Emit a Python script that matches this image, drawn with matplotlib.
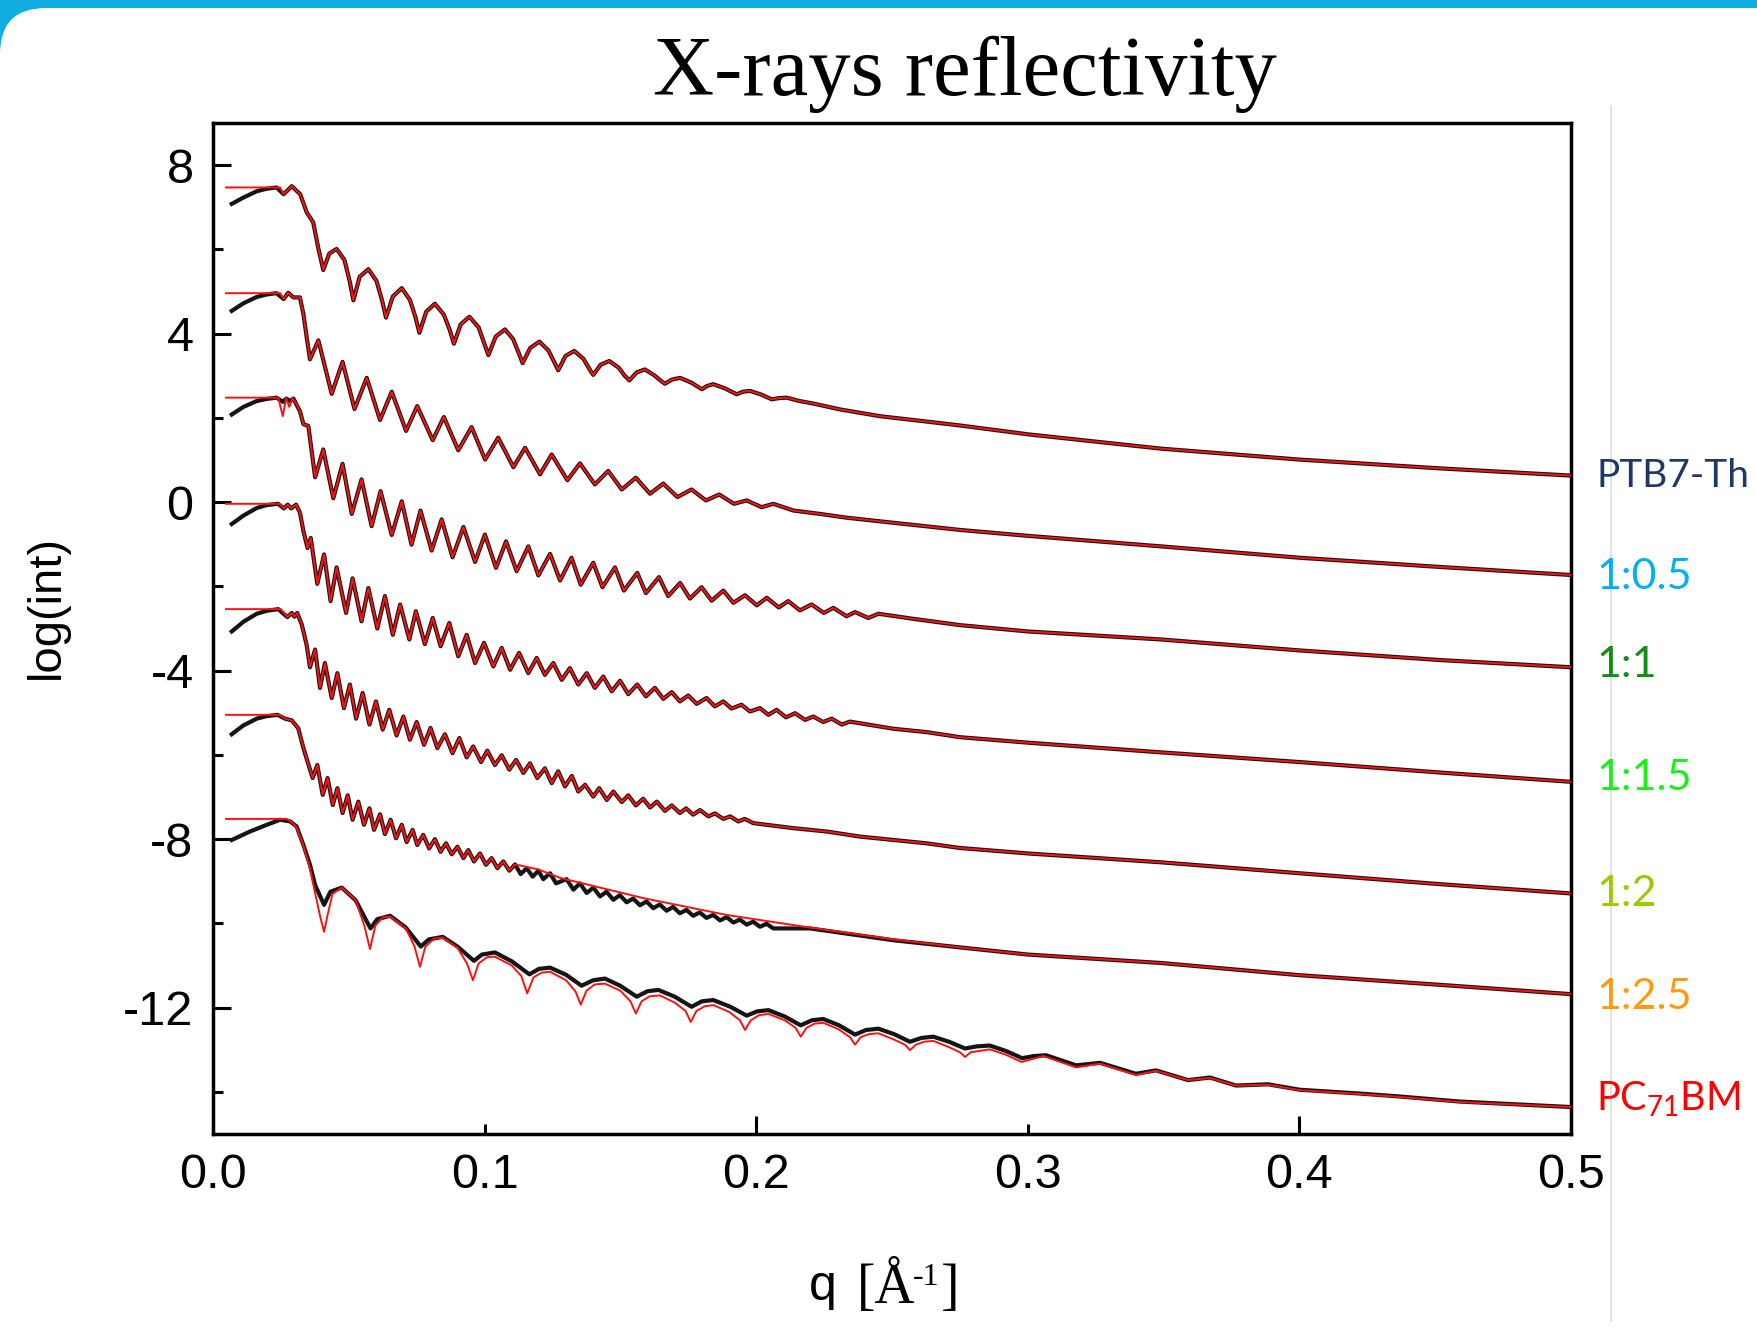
import numpy as np
import matplotlib
matplotlib.use("Agg")
import matplotlib.pyplot as plt
from matplotlib.patches import FancyBboxPatch
from matplotlib.lines import Line2D

# ---------------- data (q [1/A], log(int)) ----------------
ptb7_data = [(0.0069, 7.08), (0.0112, 7.23), (0.0161, 7.38), (0.0198, 7.44), (0.0234, 7.47),
             (0.0260, 7.31), (0.0290, 7.50), (0.0321, 7.31), (0.0345, 6.88), (0.0369, 6.64),
             (0.0387, 6.05), (0.0406, 5.51), (0.0428, 5.90), (0.0455, 6.01), (0.0484, 5.75),
             (0.0503, 5.25), (0.0517, 4.79), (0.0540, 5.35), (0.0572, 5.53), (0.0602, 5.25),
             (0.0622, 4.80), (0.0637, 4.38), (0.0662, 4.88), (0.0695, 5.08), (0.0725, 4.80),
             (0.0745, 4.40), (0.0760, 4.02), (0.0785, 4.52), (0.0817, 4.71), (0.0850, 4.45),
             (0.0872, 4.08), (0.0887, 3.76), (0.0912, 4.22), (0.0944, 4.40), (0.0978, 4.15),
             (0.0998, 3.78), (0.1014, 3.49), (0.1041, 3.93), (0.1075, 4.10), (0.1105, 3.87),
             (0.1125, 3.55), (0.1140, 3.30), (0.1168, 3.66), (0.1202, 3.81), (0.1235, 3.60),
             (0.1256, 3.33), (0.1271, 3.13), (0.1298, 3.47), (0.1330, 3.59), (0.1364, 3.40),
             (0.1385, 3.17), (0.1400, 3.02), (0.1427, 3.26), (0.1459, 3.35), (0.1494, 3.19),
             (0.1516, 3.00), (0.1533, 2.89), (0.1560, 3.08), (0.1590, 3.15), (0.1625, 3.01),
             (0.1647, 2.89), (0.1664, 2.81), (0.1690, 2.91), (0.1720, 2.95), (0.1760, 2.84),
             (0.1800, 2.68), (0.1820, 2.76), (0.1842, 2.80), (0.1885, 2.70), (0.1928, 2.56),
             (0.1950, 2.62), (0.1977, 2.64), (0.2020, 2.55), (0.2057, 2.44), (0.2085, 2.47),
             (0.2112, 2.48), (0.2160, 2.40), (0.2210, 2.34), (0.2309, 2.20), (0.2456, 2.04),
             (0.2590, 1.94), (0.2750, 1.82), (0.3000, 1.61), (0.3490, 1.27), (0.4000, 1.01),
             (0.4520, 0.80), (0.5000, 0.63)]
ptb7_fit_head = [(0.0048, 7.47), (0.0247, 7.47)]

r05_data = [(0.0069, 4.54), (0.0112, 4.72), (0.0161, 4.87), (0.0198, 4.93), (0.0234, 4.96),
            (0.0260, 4.82), (0.0277, 4.97), (0.0296, 4.86), (0.0320, 4.86), (0.0333, 4.46),
            (0.0345, 3.91), (0.0357, 3.39), (0.0388, 3.84), (0.0437, 2.57), (0.0477, 3.33),
            (0.0521, 2.21), (0.0566, 2.95), (0.0615, 1.95), (0.0658, 2.62), (0.0711, 1.69),
            (0.0752, 2.28), (0.0809, 1.47), (0.0850, 2.02), (0.0903, 1.23), (0.0952, 1.78),
            (0.1002, 1.01), (0.1050, 1.53), (0.1106, 0.83), (0.1149, 1.29), (0.1204, 0.66),
            (0.1247, 1.13), (0.1305, 0.52), (0.1351, 0.92), (0.1406, 0.42), (0.1455, 0.74),
            (0.1505, 0.30), (0.1557, 0.58), (0.1609, 0.20), (0.1658, 0.44), (0.1710, 0.12),
            (0.1762, 0.30), (0.1815, 0.04), (0.1864, 0.18), (0.1918, -0.04), (0.1965, 0.04),
            (0.2020, -0.12), (0.2063, -0.04), (0.2137, -0.20), (0.2235, -0.28), (0.2333, -0.37),
            (0.2505, -0.49), (0.2750, -0.66), (0.3000, -0.80), (0.3490, -1.05), (0.4000, -1.32),
            (0.4520, -1.54), (0.5000, -1.73)]
r05_fit_head = [(0.0048, 4.96), (0.0247, 4.96)]

r1_data = [(0.0069, 2.08), (0.0112, 2.26), (0.0161, 2.40), (0.0198, 2.45), (0.0234, 2.48),
           (0.0257, 2.38), (0.0270, 2.46), (0.0283, 2.40), (0.0296, 2.46), (0.0320, 2.16),
           (0.0333, 1.85), (0.0351, 1.81), (0.0376, 0.59), (0.0406, 1.25), (0.0443, 0.09),
           (0.0477, 0.91), (0.0511, -0.28), (0.0547, 0.54), (0.0584, -0.57), (0.0617, 0.26),
           (0.0658, -0.78), (0.0695, 0.02), (0.0731, -1.01), (0.0764, -0.20), (0.0805, -1.15),
           (0.0842, -0.41), (0.0882, -1.31), (0.0922, -0.59), (0.0965, -1.42), (0.1001, -0.77),
           (0.1042, -1.56), (0.1079, -0.93), (0.1118, -1.64), (0.1161, -1.05), (0.1198, -1.74),
           (0.1241, -1.23), (0.1278, -1.86), (0.1320, -1.32), (0.1354, -1.96), (0.1400, -1.44),
           (0.1434, -2.02), (0.1480, -1.55), (0.1513, -2.10), (0.1562, -1.68), (0.1594, -2.16),
           (0.1642, -1.78), (0.1676, -2.23), (0.1720, -1.92), (0.1756, -2.29), (0.1799, -2.02),
           (0.1836, -2.34), (0.1879, -2.10), (0.1916, -2.39), (0.1959, -2.21), (0.2002, -2.45),
           (0.2039, -2.27), (0.2083, -2.50), (0.2118, -2.35), (0.2161, -2.57), (0.2204, -2.43),
           (0.2249, -2.63), (0.2284, -2.51), (0.2333, -2.71), (0.2364, -2.61), (0.2413, -2.75),
           (0.2450, -2.65), (0.2578, -2.77), (0.2750, -2.92), (0.3000, -3.07), (0.3490, -3.26),
           (0.4000, -3.52), (0.4520, -3.75), (0.5000, -3.92)]
r1_fit_head = [(0.0048, 2.48), (0.0240, 2.48), (0.0257, 2.04), (0.0269, 2.47), (0.0281, 2.26),
               (0.0293, 2.47), (0.0310, 2.30)]

r15_data = [(0.0069, -0.52), (0.0112, -0.32), (0.0161, -0.14), (0.0198, -0.07), (0.0240, -0.04),
            (0.0261, -0.15), (0.0275, -0.06), (0.0288, -0.15), (0.0306, -0.06), (0.0320, -0.25),
            (0.0333, -0.69), (0.0348, -1.09), (0.0360, -0.85), (0.0384, -1.94), (0.0409, -1.24),
            (0.0433, -2.35), (0.0455, -1.55), (0.0490, -2.63), (0.0514, -1.81), (0.0547, -2.83),
            (0.0572, -2.04), (0.0605, -3.00), (0.0633, -2.23), (0.0662, -3.15), (0.0689, -2.43),
            (0.0723, -3.26), (0.0747, -2.59), (0.0780, -3.37), (0.0809, -2.75), (0.0838, -3.42),
            (0.0870, -2.87), (0.0903, -3.66), (0.0934, -3.15), (0.0965, -3.82), (0.0998, -3.34),
            (0.1032, -3.90), (0.1063, -3.46), (0.1094, -3.98), (0.1127, -3.58), (0.1161, -4.06),
            (0.1192, -3.70), (0.1222, -4.10), (0.1253, -3.82), (0.1284, -4.22), (0.1314, -3.94),
            (0.1345, -4.33), (0.1376, -4.06), (0.1406, -4.41), (0.1437, -4.14), (0.1468, -4.49),
            (0.1499, -4.24), (0.1529, -4.56), (0.1562, -4.33), (0.1594, -4.61), (0.1627, -4.41),
            (0.1658, -4.67), (0.1689, -4.51), (0.1719, -4.73), (0.1750, -4.59), (0.1781, -4.79),
            (0.1817, -4.65), (0.1848, -4.85), (0.1879, -4.73), (0.1909, -4.90), (0.1946, -4.81),
            (0.1977, -4.97), (0.2014, -4.89), (0.2045, -5.05), (0.2075, -4.93), (0.2110, -5.11),
            (0.2143, -5.01), (0.2180, -5.17), (0.2210, -5.09), (0.2247, -5.22), (0.2278, -5.14),
            (0.2315, -5.28), (0.2345, -5.21), (0.2505, -5.38), (0.2628, -5.46), (0.2750, -5.58),
            (0.3000, -5.71), (0.3490, -5.94), (0.4000, -6.17), (0.4520, -6.42), (0.5000, -6.64)]
r15_fit_head = [(0.0048, -0.04), (0.0246, -0.04)]

r2_data = [(0.0069, -3.07), (0.0112, -2.84), (0.0161, -2.65), (0.0198, -2.58), (0.0240, -2.54),
           (0.0274, -2.73), (0.0290, -2.63), (0.0300, -2.72), (0.0310, -2.63), (0.0327, -2.91),
           (0.0333, -3.07), (0.0345, -3.40), (0.0357, -3.92), (0.0376, -3.50), (0.0394, -4.41),
           (0.0412, -3.82), (0.0437, -4.65), (0.0458, -4.06), (0.0482, -4.89), (0.0504, -4.33),
           (0.0527, -5.14), (0.0551, -4.53), (0.0576, -5.28), (0.0600, -4.73), (0.0625, -5.40),
           (0.0649, -4.93), (0.0676, -5.54), (0.0701, -5.09), (0.0725, -5.64), (0.0750, -5.22),
           (0.0777, -5.76), (0.0801, -5.36), (0.0826, -5.84), (0.0854, -5.51), (0.0882, -5.96),
           (0.0907, -5.60), (0.0934, -6.06), (0.0958, -5.80), (0.0987, -6.17), (0.1010, -5.90),
           (0.1038, -6.24), (0.1063, -6.01), (0.1091, -6.35), (0.1116, -6.12), (0.1143, -6.43),
           (0.1167, -6.20), (0.1194, -6.55), (0.1222, -6.32), (0.1247, -6.67), (0.1271, -6.39),
           (0.1296, -6.75), (0.1321, -6.50), (0.1345, -6.87), (0.1370, -6.71), (0.1400, -6.99),
           (0.1422, -6.79), (0.1450, -7.07), (0.1474, -6.87), (0.1505, -7.12), (0.1529, -6.96),
           (0.1557, -7.20), (0.1584, -7.04), (0.1609, -7.25), (0.1634, -7.11), (0.1664, -7.33),
           (0.1689, -7.20), (0.1719, -7.38), (0.1742, -7.27), (0.1768, -7.42), (0.1793, -7.31),
           (0.1824, -7.46), (0.1848, -7.39), (0.1879, -7.52), (0.1904, -7.46), (0.1934, -7.58),
           (0.1958, -7.52), (0.1989, -7.62), (0.2137, -7.74), (0.2260, -7.82), (0.2382, -7.94),
           (0.2505, -8.02), (0.2628, -8.10), (0.2750, -8.21), (0.3000, -8.34), (0.3490, -8.55),
           (0.4000, -8.81), (0.4520, -9.07), (0.5000, -9.29)]
r2_fit_head = [(0.0048, -2.54), (0.0250, -2.54)]

r25_data = [(0.0069, -5.51), (0.0112, -5.30), (0.0161, -5.14), (0.0198, -5.08), (0.0238, -5.05),
            (0.0265, -5.14), (0.0290, -5.18), (0.0314, -5.37), (0.0333, -5.84), (0.0350, -6.20),
            (0.0367, -6.55), (0.0384, -6.24), (0.0404, -6.95), (0.0422, -6.55), (0.0441, -7.19),
            (0.0458, -6.79), (0.0477, -7.38), (0.0496, -6.96), (0.0514, -7.54), (0.0535, -7.11),
            (0.0556, -7.66), (0.0576, -7.27), (0.0593, -7.78), (0.0615, -7.41), (0.0633, -7.88),
            (0.0654, -7.54), (0.0674, -7.98), (0.0695, -7.66), (0.0713, -8.07), (0.0735, -7.78),
            (0.0752, -8.14), (0.0774, -7.90), (0.0796, -8.22), (0.0817, -8.00), (0.0838, -8.30),
            (0.0858, -8.10), (0.0879, -8.36), (0.0900, -8.18), (0.0922, -8.45), (0.0940, -8.26),
            (0.0961, -8.53), (0.0983, -8.34), (0.1005, -8.61), (0.1026, -8.45), (0.1047, -8.69),
            (0.1069, -8.53), (0.1091, -8.75), (0.1112, -8.60), (0.1133, -8.83), (0.1155, -8.69),
            (0.1177, -8.89), (0.1198, -8.75), (0.1216, -8.95), (0.1241, -8.81), (0.1263, -9.05),
            (0.1302, -8.95), (0.1327, -9.20), (0.1351, -9.05), (0.1376, -9.28), (0.1400, -9.15),
            (0.1425, -9.36), (0.1449, -9.25), (0.1474, -9.44), (0.1498, -9.33), (0.1523, -9.50),
            (0.1547, -9.41), (0.1572, -9.57), (0.1596, -9.48), (0.1621, -9.64), (0.1645, -9.55),
            (0.1670, -9.70), (0.1694, -9.61), (0.1719, -9.76), (0.1743, -9.68), (0.1768, -9.82),
            (0.1792, -9.74), (0.1817, -9.87), (0.1842, -9.80), (0.1867, -9.93), (0.1891, -9.85),
            (0.1916, -9.98), (0.1940, -9.91), (0.1965, -10.03), (0.1989, -9.96), (0.2014, -10.08),
            (0.2038, -10.01), (0.2063, -10.12), (0.2198, -10.12), (0.2505, -10.40), (0.2750, -10.57),
            (0.3000, -10.74), (0.3490, -10.94), (0.4000, -11.23), (0.4520, -11.46), (0.5000, -11.68)]
r25_fit_head = [(0.0048, -5.05), (0.0246, -5.05)]
r25_fit_tail = [(0.1112, -8.60), (0.1198, -8.72), (0.1278, -8.92), (0.1584, -9.40), (0.1891, -9.80),
                (0.2198, -10.10), (0.2505, -10.38), (0.2750, -10.57), (0.3000, -10.74),
                (0.3490, -10.94), (0.4000, -11.23), (0.4520, -11.46), (0.5000, -11.68)]

pcbm_data = [(0.0069, -8.02), (0.0136, -7.82), (0.0198, -7.66), (0.0247, -7.54), (0.0284, -7.58),
             (0.0308, -7.70), (0.0333, -8.14), (0.0357, -8.61), (0.0376, -9.09), (0.0409, -9.56),
             (0.0432, -9.25), (0.0474, -9.15), (0.0525, -9.45), (0.0580, -10.12), (0.0605, -9.90),
             (0.0652, -9.82), (0.0710, -10.10), (0.0765, -10.55), (0.0795, -10.38), (0.0846, -10.32),
             (0.0900, -10.55), (0.0961, -10.89), (0.0990, -10.74), (0.1038, -10.69), (0.1100, -10.90),
             (0.1165, -11.21), (0.1200, -11.08), (0.1241, -11.05), (0.1300, -11.22), (0.1357, -11.48),
             (0.1400, -11.35), (0.1443, -11.31), (0.1499, -11.48), (0.1560, -11.74), (0.1600, -11.61),
             (0.1640, -11.58), (0.1700, -11.74), (0.1762, -11.98), (0.1800, -11.85), (0.1842, -11.82),
             (0.1905, -11.98), (0.1965, -12.19), (0.2003, -12.09), (0.2045, -12.06), (0.2105, -12.21),
             (0.2164, -12.42), (0.2205, -12.30), (0.2247, -12.27), (0.2305, -12.42), (0.2364, -12.64),
             (0.2405, -12.53), (0.2450, -12.50), (0.2508, -12.63), (0.2566, -12.81), (0.2608, -12.72),
             (0.2652, -12.69), (0.2710, -12.81), (0.2769, -12.97), (0.2812, -12.92), (0.2860, -12.90),
             (0.2920, -13.03), (0.2979, -13.20), (0.3022, -13.15), (0.3067, -13.13), (0.3178, -13.37),
             (0.3266, -13.31), (0.3398, -13.57), (0.3472, -13.49), (0.3590, -13.72), (0.3671, -13.66),
             (0.3767, -13.85), (0.3884, -13.82), (0.4002, -13.95), (0.4223, -14.04), (0.4370, -14.11),
             (0.4591, -14.23), (0.5000, -14.36)]
pcbm_fit = [(0.0048, -7.52), (0.0271, -7.52), (0.0290, -7.60), (0.0308, -7.72), (0.0333, -8.16),
            (0.0357, -8.70), (0.0380, -9.40), (0.0395, -9.85), (0.0409, -10.20), (0.0422, -9.80),
            (0.0440, -9.30), (0.0474, -9.15), (0.0525, -9.45), (0.0557, -10.05), (0.0578, -10.61),
            (0.0598, -10.05), (0.0625, -9.86), (0.0652, -9.84), (0.0710, -10.12), (0.0742, -10.55),
            (0.0762, -11.03), (0.0782, -10.55), (0.0815, -10.36), (0.0846, -10.34), (0.0900, -10.58),
            (0.0935, -10.95), (0.0957, -11.35), (0.0978, -10.95), (0.1010, -10.80), (0.1038, -10.79),
            (0.1100, -11.00), (0.1135, -11.25), (0.1157, -11.66), (0.1180, -11.28), (0.1210, -11.17),
            (0.1241, -11.15), (0.1300, -11.35), (0.1335, -11.62), (0.1354, -11.93), (0.1375, -11.60),
            (0.1405, -11.45), (0.1443, -11.43), (0.1500, -11.60), (0.1537, -11.85), (0.1557, -12.14),
            (0.1578, -11.85), (0.1608, -11.73), (0.1645, -11.71), (0.1700, -11.88), (0.1740, -12.08),
            (0.1759, -12.34), (0.1780, -12.08), (0.1810, -11.97), (0.1842, -11.94), (0.1900, -12.10),
            (0.1940, -12.30), (0.1959, -12.53), (0.1980, -12.30), (0.2010, -12.18), (0.2045, -12.15),
            (0.2105, -12.30), (0.2145, -12.48), (0.2164, -12.69), (0.2185, -12.48), (0.2215, -12.38),
            (0.2247, -12.36), (0.2305, -12.52), (0.2345, -12.70), (0.2364, -12.88), (0.2385, -12.70),
            (0.2415, -12.63), (0.2450, -12.61), (0.2508, -12.76), (0.2548, -12.88), (0.2566, -13.01),
            (0.2588, -12.88), (0.2618, -12.81), (0.2652, -12.79), (0.2710, -12.94), (0.2750, -13.06),
            (0.2769, -13.17), (0.2790, -13.06), (0.2860, -12.99), (0.2920, -13.12), (0.2977, -13.29),
            (0.3057, -13.15), (0.3178, -13.42), (0.3266, -13.33), (0.3398, -13.60), (0.3472, -13.50),
            (0.3590, -13.72), (0.3671, -13.67), (0.3767, -13.85), (0.3884, -13.83), (0.4002, -13.96),
            (0.4223, -14.05), (0.4370, -14.12), (0.4591, -14.24), (0.5000, -14.36)]

sample_labels = ["PTB7-Th", "1:0.5", "1:1", "1:1.5", "1:2", "1:2.5", r"PC$_{\mathrm{71}}$BM"]
sample_colors = ["#1f3864", "#00b0f0", "#138f13", "#19f019", "#99cc00", "#ff9a10", "#ff0000"]
x_major = [0.0, 0.2, 0.4]
x_minor = [0.1, 0.3, 0.5]
y_major = [8, 4, 0, -4, -8, -12]
y_minor = [6, 2, -2, -6, -10, -14]


def xy(points):
    a = np.asarray(points, dtype=float)
    return a[:, 0], a[:, 1]


def join_fit(head, data):
    last = head[-1][0]
    return list(head) + [p for p in data if p[0] > last]


def join_tail(data, tail):
    first = tail[0][0]
    return [p for p in data if p[0] < first] + list(tail)


curves = [
    (ptb7_data, join_fit(ptb7_fit_head, ptb7_data)),
    (r05_data, join_fit(r05_fit_head, r05_data)),
    (r1_data, join_fit(r1_fit_head, r1_data)),
    (r15_data, join_fit(r15_fit_head, r15_data)),
    (r2_data, join_fit(r2_fit_head, r2_data)),
    (r25_data, join_tail(join_fit(r25_fit_head, r25_data), r25_fit_tail)),
    (pcbm_data, pcbm_fit),
]

# ---------------- figure ----------------
W, H = 1757, 1331
plt.rcParams["mathtext.fontset"] = "custom"
plt.rcParams["mathtext.rm"] = "Lato"
plt.rcParams["mathtext.it"] = "Lato:italic"
plt.rcParams["mathtext.bf"] = "Lato:bold"

fig = plt.figure(figsize=(W / 100, H / 100), dpi=100)
fig.patch.set_facecolor("#12ade0")
page = FancyBboxPatch((0, -200), W + 300, H - 8 + 200,
                      boxstyle="round,pad=0,rounding_size=46",
                      transform=None, fc="white", ec="none", zorder=0)
fig.add_artist(page)
fig.add_artist(Line2D([1611, 1611], [H - 1321, H - 106], transform=None,
                      color="#dcdcdc", lw=1.2, zorder=1))

ax = fig.add_axes([213 / W, 1 - 1134 / H, 1358 / W, 1011 / H])
ax.set_facecolor("white")

for data, fit in curves:
    qd, vd = xy(data)
    qf, vf = xy(fit)
    ax.plot(qd, vd, color="#151515", lw=3.0, solid_joinstyle="round", zorder=2)
    ax.plot(qf, vf, color="#ff1010", lw=1.4, solid_joinstyle="round", zorder=3)

ax.set_xlim(0, 0.5)
ax.set_ylim(-15, 9)

ax.set_xticks(x_major, labels=[f"{v:.1f}" for v in x_major])
ax.set_xticks(x_minor, labels=[f"{v:.1f}" for v in x_minor], minor=True)
ax.set_yticks(y_major, labels=[str(v) for v in y_major])
ax.set_yticks(y_minor, minor=True)

ax.tick_params(axis="both", which="both", direction="in", width=2.2,
               labelsize=35, pad=14, top=False, right=False)
ax.tick_params(axis="both", which="major", length=13)
ax.tick_params(axis="both", which="minor", length=7)
for lab in ax.get_xticklabels(which="both") + ax.get_yticklabels():
    lab.set_fontfamily("Liberation Sans")
for s in ax.spines.values():
    s.set_linewidth(2.5)
    s.set_color("black")

# title and axis labels
fig.text(965 / W, 1 - 95 / H, "X-rays reflectivity", ha="center", va="baseline",
         family="Liberation Serif", fontsize=61)
fig.text(47 / W, 1 - 607 / H, "log(int)", rotation=90, ha="center", va="center",
         family="Liberation Sans", fontsize=34)
fig.text(809 / W, 1 - 1300 / H, "q", ha="left", va="baseline",
         family="Liberation Sans", fontsize=36)
fig.text(857 / W, 1 - 1303 / H, "[Å", ha="left", va="baseline",
         family="Liberation Serif", fontsize=40)
fig.text(913 / W, 1 - 1285 / H, "-1", ha="left", va="baseline",
         family="Liberation Serif", fontsize=23)
fig.text(941 / W, 1 - 1303 / H, "]", ha="left", va="baseline",
         family="Liberation Serif", fontsize=40)

# sample labels at the right
label_y = [476, 577, 665, 778, 894, 997, 1099]
label_size = [28, 31, 31, 31, 31, 31, 28.5]
for txt, col, yy, fs in zip(sample_labels, sample_colors, label_y, label_size):
    fig.text(1596 / W, 1 - yy / H, txt, ha="left", va="center", family="Lato",
             fontsize=fs, color=col)

fig.savefig("out.png", dpi=100, facecolor=fig.get_facecolor())
